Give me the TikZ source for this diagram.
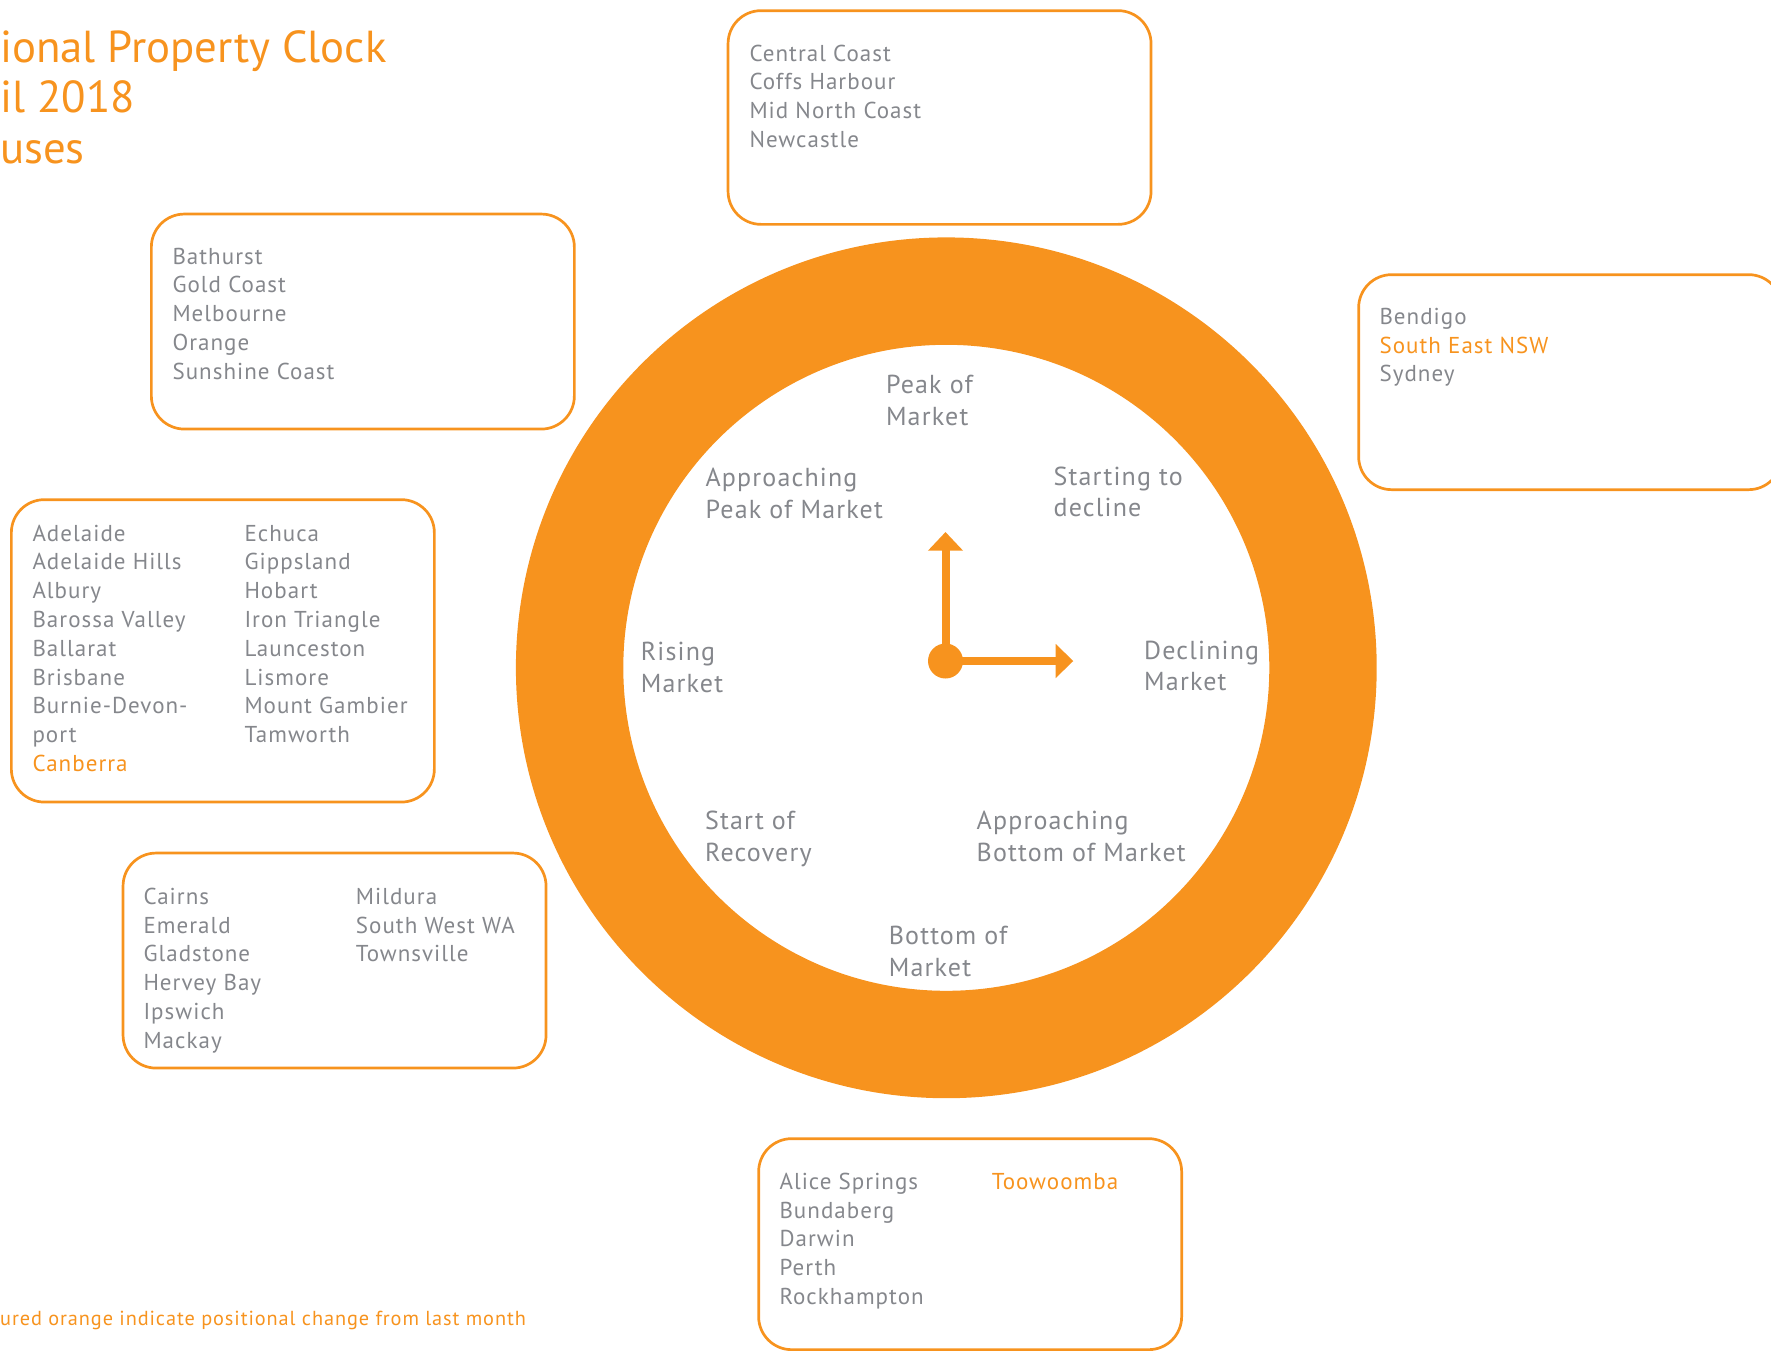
\documentclass[tikz,border=0pt]{standalone}
\usepackage{fontspec}
\setmainfont{PT Sans}[LetterSpace=4.5]
\newfontfamily\titlefont{PT Sans}
\usetikzlibrary{arrows.meta}
\definecolor{eyorange}{HTML}{F7931E}
\definecolor{eygray}{HTML}{85878C}
\newcommand{\hl}[1]{\textcolor{eyorange}{#1}}
\newcommand{\lines}[1]{\begin{tabular}[t]{@{}l@{}}#1\end{tabular}}
\begin{document}
\begin{tikzpicture}[x=1pt,y=-1pt,
  cbox/.style={draw=eyorange, line width=2.7pt, rounded corners=33pt, minimum width=423pt, inner sep=0pt, anchor=north west},
  listtext/.style={inner sep=0pt, anchor=base west, text=eygray, font=\fontsize{23}{28.8}\selectfont},
  clocktext/.style={inner sep=0pt, anchor=base west, text=eygray, font=\fontsize{26}{31.7}\selectfont},
  hand/.style={draw=eyorange, line width=8pt},
]
\useasboundingbox (0,0) rectangle (1771,1350);
\clip (0,0) rectangle (1771,1350);

% title and footnote
\node[inner sep=0pt, anchor=base west, text=eyorange, font=\titlefont\fontsize{44.8}{50.5}\selectfont] (title) at (0,62)
  {\lines{ional Property Clock\\il 2018\\uses}};
\node[inner sep=0pt, anchor=base west, text=eyorange, font=\fontsize{20.3}{24}\selectfont] (foot) at (0,1325)
  {ured orange indicate positional change from last month};

% clock ring
\fill[eyorange, even odd rule] (946.3,667.8) circle[radius=430.4] (946.3,667.8) circle[radius=323];

% hands
\node[circle, fill=eyorange, inner sep=0pt, minimum size=35pt] (hub) at (945.5,661) {};
\coordinate (tipup) at (945.5,532);
\coordinate (tipright) at (1073.3,661);
\draw[hand, -{Triangle[length=18.7pt, width=34pt]}] (hub.center) -- (tipup);
\draw[hand, -{Triangle[length=17.6pt, width=33pt]}] (hub.center) -- (tipright);

% clock labels
\node[clocktext] (peak) at (885.8,393.4) {\lines{Peak of\\Market}};
\node[clocktext] (appeak) at (705.4,486.7) {\lines{Approaching\\Peak of Market}};
\node[clocktext] (startdec) at (1053.5,485) {\lines{Starting to\\decline}};
\node[clocktext] (rising) at (640.6,660.3) {\lines{Rising\\Market}};
\node[clocktext] (declining) at (1144,659.2) {\lines{Declining\\Market}};
\node[clocktext] (startrec) at (705,829.6) {\lines{Start of\\Recovery}};
\node[clocktext] (apbottom) at (976.5,829.6) {\lines{Approaching\\Bottom of Market}};
\node[clocktext] (bottom) at (888.6,944.5) {\lines{Bottom of\\Market}};

% boxes
\node[cbox, minimum height=213.7pt] (box1) at (726.7,9.3) {};
\node[cbox, minimum height=215pt] (box2) at (150,212.7) {};
\node[cbox, minimum height=215pt] (box3) at (1357.3,273.3) {};
\node[cbox, minimum height=302.4pt] (box4) at (10,498.3) {};
\node[cbox, minimum height=215pt] (box5) at (121.7,851.7) {};
\node[cbox, minimum height=211pt] (box6) at (757.3,1137.3) {};

% box texts
\node[listtext] (t1) at (749.3,61) {\lines{Central Coast\\Coffs Harbour\\Mid North Coast\\Newcastle}};
\node[listtext] (t2) at (172.3,264) {\lines{Bathurst\\Gold Coast\\Melbourne\\Orange\\Sunshine Coast}};
\node[listtext] (t3) at (1379.3,324.3) {\lines{Bendigo\\\hl{South East NSW}\\Sydney}};
\node[listtext] (t4a) at (32.3,541) {\lines{Adelaide\\Adelaide Hills\\Albury\\Barossa Valley\\Ballarat\\Brisbane\\Burnie-Devon-\\port\\\hl{Canberra}}};
\node[listtext] (t4b) at (244.3,541) {\lines{Echuca\\Gippsland\\Hobart\\Iron Triangle\\Launceston\\Lismore\\Mount Gambier\\Tamworth}};
\node[listtext] (t5a) at (143.3,904.3) {\lines{Cairns\\Emerald\\Gladstone\\Hervey Bay\\Ipswich\\Mackay}};
\node[listtext] (t5b) at (355.7,904.3) {\lines{Mildura\\South West WA\\Townsville}};
\node[listtext] (t6a) at (779.3,1189.3) {\lines{Alice Springs\\Bundaberg\\Darwin\\Perth\\Rockhampton}};
\node[listtext] (t6b) at (991.7,1189.3) {\lines{\hl{Toowoomba}}};
\end{tikzpicture}
\end{document}
